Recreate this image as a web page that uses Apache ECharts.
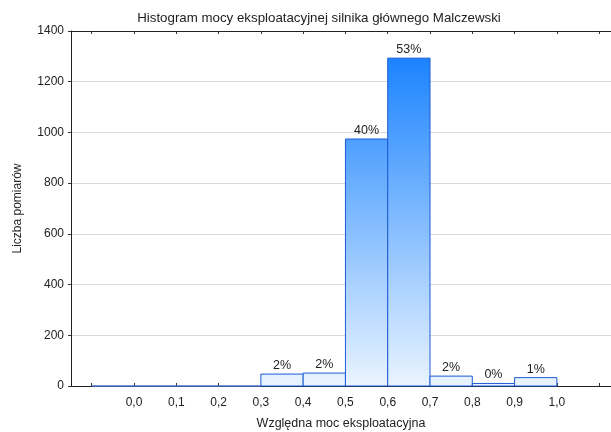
<!DOCTYPE html>
<html>
<head>
<meta charset="utf-8">
<script src="https://cdn.jsdelivr.net/npm/echarts@6/dist/echarts.min.js"></script>
<style>
html,body{margin:0;padding:0;background:#fff;}
#chart{width:611px;height:432px;}
</style>
</head>
<body>
<div id="chart"></div>
<script>
// Bin edges (start, end) and counts
const binStarts = [-0.1, 0.0, 0.1, 0.2, 0.3, 0.4, 0.5, 0.6, 0.7, 0.8, 0.9];
const binEnds   = [0.0, 0.1, 0.2, 0.3, 0.4, 0.5, 0.6, 0.7, 0.8, 0.9, 1.0];
const counts    = [0, 0, 0, 0, 47, 51, 974, 1293, 39, 10, 33];
const xTickValues = [-1, 0, 1, 2, 3, 4, 5, 6, 7, 8, 9, 10, 11].map(v => v / 10);
const xLabelValues = [0, 1, 2, 3, 4, 5, 6, 7, 8, 9, 10].map(v => v / 10);
const xTickLabels = ['0,0','0,1','0,2','0,3','0,4','0,5','0,6','0,7','0,8','0,9','1,0'];
const yTicks = [0, 200, 400, 600, 800, 1000, 1200, 1400];

const total = counts.reduce((a, b) => a + b, 0);
const data = binStarts.map((s, i) => [s, binEnds[i], counts[i]]);
const FONT = 'Liberation Sans, Arial, sans-serif';

const chart = echarts.init(document.getElementById('chart'), null, {renderer: 'canvas'});

function labelFor(v) {
  for (let i = 0; i < xLabelValues.length; i++) {
    if (Math.abs(xLabelValues[i] - v) < 1e-6) return xTickLabels[i];
  }
  return '';
}

const option = {
  backgroundColor: '#ffffff',
  animation: false,
  title: {
    text: 'Histogram mocy eksploatacyjnej silnika głównego Malczewski',
    left: 314, top: 7, textAlign: 'center',
    textStyle: {fontFamily: FONT, fontSize: 13.3, fontWeight: 'normal', color: '#222'}
  },
  grid: {left: 71, right: 0, top: 31, bottom: 46, outerBoundsMode: 'none', containLabel: false},
  xAxis: [{
    type: 'value', position: 'bottom',
    min: -0.149, max: 1.128,
    name: 'Względna moc eksploatacyjna', nameLocation: 'middle', nameGap: 31,
    nameTextStyle: {fontFamily: FONT, fontSize: 12.5, color: '#222'},
    axisLine: {show: true, onZero: false, lineStyle: {color: '#222', width: 1}},
    axisTick: {show: true, inside: true, length: 3, customValues: xTickValues, lineStyle: {color: '#333'}},
    axisLabel: {show: true, customValues: xLabelValues, margin: 11, formatter: v => labelFor(v),
      fontFamily: FONT, fontSize: 12, color: '#222'},
    splitLine: {show: false}
  }, {
    type: 'value', position: 'top',
    min: -0.149, max: 1.128,
    axisLine: {show: true, onZero: false, lineStyle: {color: '#222', width: 1}},
    axisTick: {show: true, inside: true, length: 3, customValues: xTickValues, lineStyle: {color: '#333'}},
    axisLabel: {show: false},
    splitLine: {show: false}
  }],
  yAxis: {
    type: 'value', min: yTicks[0], max: yTicks[yTicks.length - 1], interval: 200,
    name: 'Liczba pomiarów', nameLocation: 'middle', nameGap: 47,
    nameTextStyle: {fontFamily: FONT, fontSize: 12, color: '#222'},
    axisLine: {show: true, onZero: false, lineStyle: {color: '#222', width: 1}},
    axisTick: {show: true, inside: false, length: 3, lineStyle: {color: '#333'}},
    axisLabel: {margin: 7, fontFamily: FONT, fontSize: 12, color: '#222', formatter: v => String(v)},
    splitLine: {show: true, lineStyle: {color: '#dadada', width: 1}}
  },
  series: [{
    type: 'custom',
    xAxisIndex: 0,
    data: data,
    encode: {x: [0, 1], y: 2},
    renderItem: function (params, api) {
      const s = api.value(0), e = api.value(1), c = api.value(2);
      const p0 = api.coord([s, c]);
      const p1 = api.coord([e, 0]);
      const yTop = api.coord([0, 1400])[1];
      const yBot = api.coord([0, 0])[1];
      const grad = new echarts.graphic.LinearGradient(0, yTop, 0, yBot, [
        {offset: 0, color: '#0a7aff'},
        {offset: 1, color: '#eaf4ff'}
      ], true);
      const children = [{
        type: 'rect',
        shape: {x: p0[0], y: p0[1], width: p1[0] - p0[0], height: p1[1] - p0[1]},
        style: {fill: grad, stroke: c > 0 ? '#1d5cd6' : '#4a72c4', lineWidth: 1}
      }];
      if (c > 0) {
        const pct = Math.round(c / total * 100) + '%';
        children.push({
          type: 'text',
          style: {
            text: pct, x: (p0[0] + p1[0]) / 2, y: p0[1] - 2,
            align: 'center', verticalAlign: 'bottom',
            font: '12.5px ' + FONT, fill: '#222'
          }
        });
      }
      return {type: 'group', children: children};
    }
  }]
};
chart.setOption(option);
</script>
</body>
</html>
